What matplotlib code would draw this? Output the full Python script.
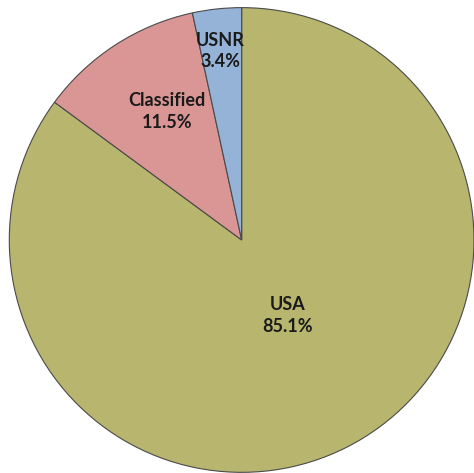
import numpy as np
import matplotlib.pyplot as plt

# Data
labels = ['USA', 'Classified', 'USNR']
shares = [85.1, 11.5, 3.4]
colors = ['#B8B56E', '#D99694', '#95B3D7']
# label placement: distance from centre (fraction of radius) and angle tweak (deg)
label_r = [0.38, 0.64, 0.82]
label_dang = [4.5, -2.7, 0.2]

fig = plt.figure(figsize=(4.74, 4.73), dpi=100)
ax = fig.add_axes([0.0, 0.0, 1.0, 1.0])

wedges, _ = ax.pie(shares, colors=colors, startangle=90, counterclock=False,
                   radius=1.0, wedgeprops=dict(edgecolor='#4a4a4a', linewidth=0.8))

for w, lab, s, r, da in zip(wedges, labels, shares, label_r, label_dang):
    mid = np.deg2rad((w.theta1 + w.theta2) / 2 + da)
    ax.text(r * np.cos(mid), r * np.sin(mid), f'{lab}\n{s:.1f}%',
            ha='center', va='center', fontsize=13, fontweight='bold',
            family='Lato', color='#1a1a1a', linespacing=1.3)

ax.set_aspect('equal')
ax.set_xlim(-1.04, 1.00)
ax.set_ylim(-1.00, 1.03)
ax.axis('off')

fig.savefig('out.png', dpi=100, facecolor='white')
